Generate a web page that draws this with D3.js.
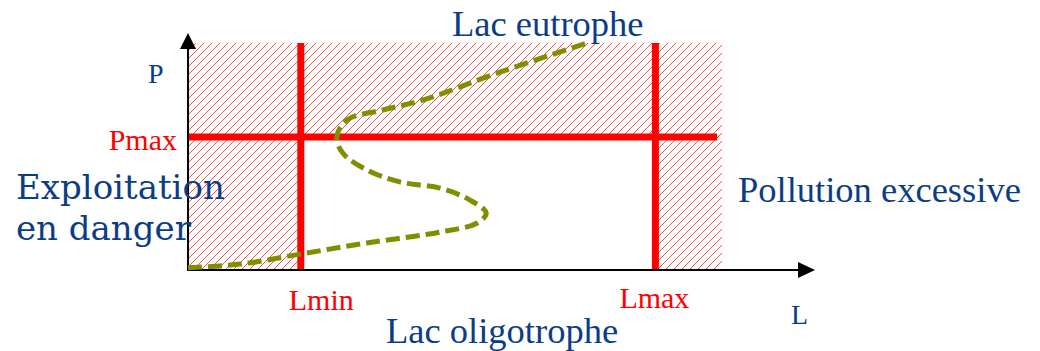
<!DOCTYPE html>
<html>
<head>
<meta charset="utf-8">
<script src="https://cdn.jsdelivr.net/npm/d3@7"></script>
<style>
    body { margin: 0; background: #fff; }
    svg { display: block; }
</style>
</head>
<body>
<div id="chart"></div>
<script>
// Curve of the lake state (L = load, P = phosphorus)
const curveL = [0, 8.7, 18.7, 29.8, 42, 48.2, 49.7, 47, 42, 35.3, 29.8, 25.8, 24.8, 26.5, 32.5, 39.2, 52, 67];
const curveP = [1, 2.6, 7.0, 11.9, 16.7, 20.7, 25.1, 30.8, 36.1, 38.8, 44.1, 51.5, 58.6, 66.1, 70.5, 74.9, 87.2, 100.4];

// limits
const limitNames = ["Lmin", "Lmax"];
const limitValues = [18.8, 77.9];
const pmaxName = "Pmax";
const pmaxValue = 58.6;

// extent of the hatched (forbidden) zone
const hatchMaxL = 89;
const hatchMaxP = 100;

const width = 1040, height = 351;
const blue = "#0b3d86", red = "#ff0000", olive = "#7f8f00";

const svg = d3.select("#chart").append("svg")
    .attr("width", width)
    .attr("height", height);

const x = d3.scaleLinear().domain([0, 100]).range([188, 788]);
const y = d3.scaleLinear().domain([0, 100]).range([270, 43]);

// hatched zone: left band, top band, right band (clip path)
const zone = [
    [0, 0], [0, hatchMaxP], [hatchMaxL, hatchMaxP], [hatchMaxL, 0],
    [limitValues[1], 0], [limitValues[1], pmaxValue], [limitValues[0], pmaxValue],
    [limitValues[0], 0]
];
svg.append("defs").append("clipPath")
    .attr("id", "zone")
    .append("path")
    .attr("d", "M" + zone.map(p => x(p[0]) + "," + y(p[1])).join("L") + "Z");

const x0 = x(0), x1 = x(hatchMaxL), yTop = y(hatchMaxP), yBot = y(0);
const span = yBot - yTop;
svg.append("g")
    .attr("clip-path", "url(#zone)")
    .selectAll("line")
    .data(d3.range(x0 - span, x1 + 8, 8))
    .enter()
    .append("line")
    .attr("x1", d => d).attr("y1", yBot)
    .attr("x2", d => d + span).attr("y2", yTop)
    .style("stroke", red)
    .style("stroke-opacity", 0.8)
    .style("stroke-width", 0.9);

// red limit lines
svg.append("line")
    .attr("x1", x(0)).attr("x2", x(hatchMaxL) - 5)
    .attr("y1", y(pmaxValue)).attr("y2", y(pmaxValue))
    .attr("stroke", red).attr("stroke-width", 7);

svg.selectAll(".limit")
    .data(limitValues)
    .enter()
    .append("line")
    .attr("class", "limit")
    .attr("x1", d => x(d)).attr("x2", d => x(d))
    .attr("y1", y(0)).attr("y2", y(hatchMaxP))
    .attr("stroke", red).attr("stroke-width", 7);

// axes with arrows
const axisG = svg.append("g");
const xEnd = x(0) + 612, yEnd = y(0) - 223;
axisG.append("line")
    .attr("x1", x(0)).attr("x2", xEnd)
    .attr("y1", y(0)).attr("y2", y(0))
    .attr("stroke", "#000").attr("stroke-width", 2);
axisG.append("path")
    .attr("d", `M${xEnd - 2},${y(0) - 8}L${xEnd + 15},${y(0)}L${xEnd - 2},${y(0) + 8}Z`)
    .attr("fill", "#000");
axisG.append("line")
    .attr("x1", x(0)).attr("x2", x(0))
    .attr("y1", y(0) + 1).attr("y2", yEnd)
    .attr("stroke", "#000").attr("stroke-width", 2);
axisG.append("path")
    .attr("d", `M${x(0) - 8},${yEnd + 2}L${x(0)},${yEnd - 14}L${x(0) + 8},${yEnd + 2}Z`)
    .attr("fill", "#000");

// S-shaped curve
const line = d3.line()
    .x(d => x(d[0]))
    .y(d => y(d[1]))
    .curve(d3.curveCatmullRom.alpha(0.5));

svg.append("path")
    .datum(curveL.map((l, i) => [l, curveP[i]]))
    .attr("d", line)
    .attr("fill", "none")
    .attr("stroke", olive)
    .attr("stroke-width", 5)
    .attr("stroke-dasharray", "14,6");

// labels
const serif = "'Liberation Serif', 'Times New Roman', serif";

svg.append("text")
    .attr("x", x(0) - 11).attr("y", y(pmaxValue) + 13)
    .attr("text-anchor", "end")
    .attr("font-family", serif).attr("font-size", 30)
    .attr("fill", red)
    .text(pmaxName);

const labelOffsets = [-12, -36];
svg.selectAll(".limit-label")
    .data(limitNames)
    .enter()
    .append("text")
    .attr("class", "limit-label")
    .attr("x", (d, i) => x(limitValues[i]) + labelOffsets[i])
    .attr("y", (d, i) => i === 0 ? 310 : 308)
    .attr("font-family", serif).attr("font-size", 30)
    .attr("fill", red)
    .text(d => d);

svg.append("text")
    .attr("x", 148).attr("y", 83)
    .attr("font-family", serif).attr("font-size", 28)
    .attr("fill", blue)
    .text("P");

svg.append("text")
    .attr("x", 791).attr("y", 324)
    .attr("font-family", serif).attr("font-size", 28)
    .attr("fill", blue)
    .text("L");

svg.append("text")
    .attr("x", 452).attr("y", 36)
    .attr("font-family", serif).attr("font-size", 36.5)
    .attr("fill", blue)
    .text("Lac eutrophe");

svg.append("text")
    .attr("x", 386).attr("y", 343)
    .attr("font-family", serif).attr("font-size", 36.5)
    .attr("fill", blue)
    .text("Lac oligotrophe");

svg.append("text")
    .attr("x", 738).attr("y", 202)
    .attr("font-family", serif).attr("font-size", 36.5)
    .attr("fill", blue)
    .text("Pollution excessive");

const danger = svg.append("text")
    .attr("font-family", "'DejaVu Serif', serif").attr("font-size", 34)
    .attr("fill", blue);
danger.append("tspan").attr("x", 16).attr("y", 199).text("Exploitation");
danger.append("tspan").attr("x", 16).attr("y", 240).text("en danger");
</script>
</body>
</html>
